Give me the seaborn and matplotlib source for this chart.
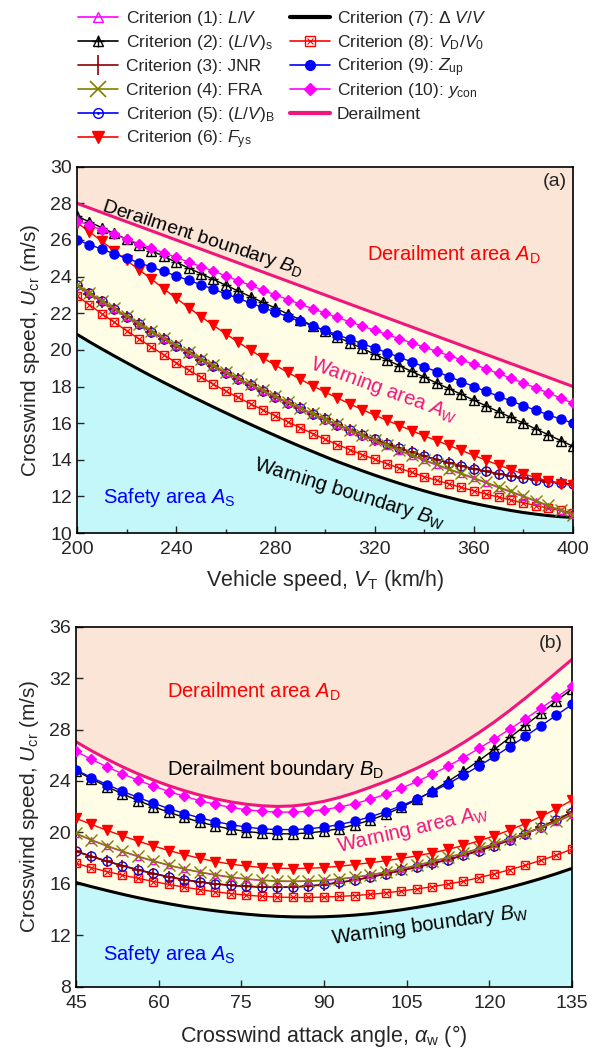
import matplotlib
matplotlib.use('Agg')
import matplotlib.pyplot as plt
from matplotlib.lines import Line2D
from matplotlib.ticker import MultipleLocator
import seaborn as sns

# ---------------- panel (a): critical crosswind speed vs vehicle speed
speed_kmh = [200, 205, 210, 215, 220, 225, 230, 235, 240, 245, 250, 255, 260, 265, 270, 275, 280,
             285, 290, 295, 300, 305, 310, 315, 320, 325, 330, 335, 340, 345, 350, 355, 360, 365,
             370, 375, 380, 385, 390, 395, 400]

a_derail = [28.00, 27.75, 27.50, 27.25, 27.00, 26.75, 26.50, 26.25, 26.00, 25.75, 25.50, 25.25,
            25.00, 24.75, 24.50, 24.25, 24.00, 23.75, 23.50, 23.25, 23.00, 22.75, 22.50, 22.25,
            22.00, 21.75, 21.50, 21.25, 21.00, 20.75, 20.50, 20.25, 20.00, 19.75, 19.50, 19.25,
            19.00, 18.75, 18.50, 18.25, 18.00]
a_c1 = [23.50, 23.08, 22.65, 22.23, 21.81, 21.40, 21.00, 20.60, 20.21, 19.84, 19.47, 19.11, 18.76,
        18.42, 18.08, 17.75, 17.43, 17.11, 16.80, 16.49, 16.19, 15.89, 15.59, 15.30, 15.02, 14.75,
        14.48, 14.22, 13.96, 13.71, 13.46, 13.22, 12.98, 12.73, 12.48, 12.23, 11.98, 11.73, 11.47,
        11.21, 10.96]
a_c2 = [27.30, 26.99, 26.67, 26.36, 26.04, 25.73, 25.42, 25.10, 24.79, 24.47, 24.16, 23.85, 23.53,
        23.22, 22.90, 22.59, 22.28, 21.96, 21.65, 21.33, 21.02, 20.71, 20.39, 20.08, 19.76, 19.45,
        19.14, 18.82, 18.51, 18.19, 17.88, 17.57, 17.25, 16.94, 16.62, 16.31, 16.00, 15.68, 15.37,
        15.05, 14.74]
a_c3 = [23.50, 23.07, 22.64, 22.22, 21.80, 21.39, 20.99, 20.59, 20.20, 19.83, 19.46, 19.10, 18.75,
        18.41, 18.07, 17.74, 17.42, 17.11, 16.80, 16.50, 16.20, 15.91, 15.63, 15.36, 15.10, 14.86,
        14.62, 14.40, 14.20, 14.01, 13.83, 13.66, 13.50, 13.36, 13.23, 13.11, 13.00, 12.90, 12.80,
        12.72, 12.65]
a_c4 = [23.55, 23.12, 22.69, 22.27, 21.85, 21.44, 21.04, 20.64, 20.25, 19.88, 19.51, 19.15, 18.80,
        18.46, 18.12, 17.79, 17.47, 17.15, 16.84, 16.53, 16.23, 15.93, 15.63, 15.34, 15.06, 14.79,
        14.52, 14.26, 14.00, 13.75, 13.50, 13.26, 13.02, 12.77, 12.52, 12.27, 12.02, 11.77, 11.51,
        11.25, 11.00]
a_c5 = [23.52, 23.09, 22.66, 22.23, 21.81, 21.40, 21.00, 20.60, 20.21, 19.84, 19.47, 19.11, 18.76,
        18.41, 18.07, 17.74, 17.42, 17.11, 16.80, 16.50, 16.21, 15.92, 15.64, 15.37, 15.11, 14.87,
        14.63, 14.41, 14.21, 14.02, 13.84, 13.67, 13.51, 13.37, 13.24, 13.12, 13.01, 12.91, 12.81,
        12.73, 12.66]
a_c6 = [26.95, 26.45, 25.93, 25.41, 24.89, 24.38, 23.87, 23.33, 22.82, 22.31, 21.82, 21.34, 20.87,
        20.42, 19.98, 19.56, 19.16, 18.77, 18.40, 18.04, 17.70, 17.37, 17.05, 16.74, 16.44, 16.15,
        15.87, 15.59, 15.31, 15.04, 14.78, 14.51, 14.24, 13.97, 13.71, 13.46, 13.23, 13.02, 12.84,
        12.70, 12.60]
a_c7 = [20.85, 20.44, 20.05, 19.67, 19.30, 18.93, 18.57, 18.22, 17.88, 17.54, 17.21, 16.88, 16.56,
        16.24, 15.93, 15.62, 15.32, 15.02, 14.73, 14.45, 14.17, 13.90, 13.65, 13.40, 13.16, 12.93,
        12.71, 12.50, 12.30, 12.11, 11.94, 11.77, 11.62, 11.48, 11.35, 11.23, 11.12, 11.03, 10.95,
        10.89, 10.85]
a_c8 = [22.95, 22.46, 21.98, 21.51, 21.05, 20.60, 20.16, 19.73, 19.30, 18.90, 18.51, 18.12, 17.75,
        17.40, 17.05, 16.72, 16.40, 16.07, 15.75, 15.43, 15.12, 14.83, 14.55, 14.28, 14.03, 13.78,
        13.54, 13.31, 13.08, 12.88, 12.68, 12.49, 12.30, 12.13, 11.96, 11.80, 11.65, 11.50, 11.36,
        11.23, 11.10]
a_c9 = [26.00, 25.75, 25.50, 25.25, 25.00, 24.76, 24.52, 24.28, 24.04, 23.80, 23.56, 23.31, 23.06,
        22.81, 22.56, 22.31, 22.06, 21.81, 21.56, 21.31, 21.07, 20.82, 20.58, 20.34, 20.10, 19.85,
        19.60, 19.34, 19.08, 18.81, 18.54, 18.27, 18.00, 17.73, 17.47, 17.21, 16.95, 16.70, 16.46,
        16.22, 16.00]
a_c10 = [27.05, 26.80, 26.55, 26.30, 26.05, 25.80, 25.55, 25.30, 25.05, 24.80, 24.55, 24.30, 24.04,
         23.78, 23.52, 23.26, 23.00, 22.75, 22.50, 22.25, 22.01, 21.77, 21.53, 21.30, 21.07, 20.84,
         20.61, 20.38, 20.15, 19.92, 19.69, 19.45, 19.21, 18.96, 18.71, 18.45, 18.19, 17.92, 17.65,
         17.37, 17.08]

# ---------------- panel (b): critical crosswind speed vs attack angle
angle_deg = [45, 47.8125, 50.625, 53.4375, 56.25, 59.0625, 61.875, 64.6875, 67.5, 70.3125, 73.125,
             75.9375, 78.75, 81.5625, 84.375, 87.1875, 90, 92.8125, 95.625, 98.4375, 101.25,
             104.0625, 106.875, 109.6875, 112.5, 115.3125, 118.125, 120.9375, 123.75, 126.5625,
             129.375, 132.1875, 135]

b_derail = [27.05, 26.35, 25.70, 25.10, 24.56, 24.07, 23.63, 23.24, 22.90, 22.61, 22.37, 22.19,
            22.07, 22.02, 22.06, 22.20, 22.42, 22.72, 23.09, 23.52, 23.97, 24.46, 25.00, 25.60,
            26.26, 26.98, 27.76, 28.60, 29.50, 30.45, 31.43, 32.44, 33.46]
b_c1 = [19.90, 19.39, 18.93, 18.51, 18.12, 17.76, 17.43, 17.14, 16.89, 16.68, 16.50, 16.36, 16.26,
        16.20, 16.18, 16.20, 16.26, 16.36, 16.50, 16.68, 16.90, 17.15, 17.43, 17.73, 18.04, 18.37,
        18.72, 19.09, 19.48, 19.90, 20.35, 20.83, 21.35]
b_c2 = [24.80, 24.16, 23.56, 23.00, 22.48, 22.00, 21.56, 21.16, 20.80, 20.50, 20.25, 20.07, 19.95,
        19.89, 19.89, 19.96, 20.09, 20.30, 20.60, 20.96, 21.42, 21.95, 22.56, 23.23, 23.96, 24.75,
        25.59, 26.47, 27.39, 28.33, 29.28, 30.23, 31.17]
b_c3 = [18.52, 18.12, 17.75, 17.40, 17.08, 16.79, 16.53, 16.31, 16.13, 15.99, 15.88, 15.80, 15.75,
        15.73, 15.75, 15.82, 15.94, 16.10, 16.29, 16.52, 16.78, 17.04, 17.30, 17.58, 17.88, 18.21,
        18.57, 18.97, 19.41, 19.89, 20.41, 20.97, 21.57]
b_c4 = [19.93, 19.42, 18.96, 18.54, 18.15, 17.79, 17.46, 17.17, 16.92, 16.71, 16.53, 16.39, 16.29,
        16.23, 16.21, 16.23, 16.29, 16.39, 16.53, 16.71, 16.93, 17.18, 17.46, 17.76, 18.07, 18.40,
        18.75, 19.12, 19.51, 19.93, 20.38, 20.86, 21.38]
b_c5 = [18.55, 18.15, 17.77, 17.42, 17.10, 16.81, 16.55, 16.33, 16.15, 16.00, 15.89, 15.81, 15.76,
        15.74, 15.76, 15.83, 15.95, 16.11, 16.30, 16.53, 16.79, 17.05, 17.31, 17.59, 17.89, 18.22,
        18.58, 18.98, 19.42, 19.90, 20.42, 20.98, 21.58]
b_c6 = [21.10, 20.62, 20.16, 19.73, 19.32, 18.94, 18.59, 18.27, 17.98, 17.73, 17.53, 17.38, 17.27,
        17.21, 17.19, 17.21, 17.27, 17.37, 17.50, 17.64, 17.80, 17.98, 18.18, 18.41, 18.68, 18.99,
        19.34, 19.74, 20.19, 20.69, 21.24, 21.84, 22.50]
b_c7 = [16.10, 15.78, 15.48, 15.19, 14.92, 14.67, 14.45, 14.24, 14.06, 13.90, 13.76, 13.64, 13.54,
        13.47, 13.43, 13.42, 13.44, 13.49, 13.57, 13.68, 13.82, 13.98, 14.17, 14.38, 14.61, 14.86,
        15.13, 15.42, 15.73, 16.06, 16.41, 16.79, 17.20]
b_c8 = [17.60, 17.25, 16.95, 16.68, 16.43, 16.18, 15.95, 15.74, 15.55, 15.38, 15.24, 15.12, 15.03,
        14.97, 14.94, 14.94, 14.97, 15.02, 15.09, 15.18, 15.30, 15.44, 15.60, 15.78, 15.98, 16.21,
        16.48, 16.78, 17.10, 17.45, 17.83, 18.24, 18.70]
b_c9 = [24.85, 24.27, 23.72, 23.20, 22.72, 22.27, 21.85, 21.47, 21.13, 20.84, 20.60, 20.41, 20.28,
        20.22, 20.22, 20.28, 20.41, 20.61, 20.88, 21.22, 21.62, 22.08, 22.60, 23.17, 23.79, 24.46,
        25.17, 25.91, 26.68, 27.48, 28.30, 29.12, 29.95]
b_c10 = [26.30, 25.68, 25.10, 24.56, 24.06, 23.60, 23.18, 22.80, 22.47, 22.18, 21.94, 21.76, 21.64,
         21.58, 21.58, 21.64, 21.77, 21.97, 22.24, 22.58, 22.98, 23.44, 23.96, 24.53, 25.15, 25.82,
         26.53, 27.27, 28.04, 28.84, 29.66, 30.50, 31.35]

legend_labels = ['Criterion (1): $L/V$', 'Criterion (2): $(L/V)_\\mathrm{s}$', 'Criterion (3): JNR',
                 'Criterion (4): FRA', 'Criterion (5): $(L/V)_\\mathrm{B}$', 'Criterion (6): $F_\\mathrm{ys}$',
                 'Criterion (7): $\\Delta\\ V/V$', 'Criterion (8): $V_\\mathrm{D}/V_0$',
                 'Criterion (9): $Z_\\mathrm{up}$', 'Criterion (10): $y_\\mathrm{con}$', 'Derailment']

# colours
MAG = '#FF00FF'
MAROON = '#8B0000'
OLIVE = '#808000'
BLUE = '#0000FF'
RED = '#FF0000'
PINK = '#F0167C'
PEACH = '#FBE5D6'
CREAM = '#FFFDE6'
CYAN = '#C4F7FA'

sns.set_style('ticks')
plt.rcParams['font.family'] = ['Liberation Sans', 'DejaVu Sans']
plt.rcParams['mathtext.fontset'] = 'custom'
plt.rcParams['mathtext.rm'] = 'Liberation Sans'
plt.rcParams['mathtext.it'] = 'Liberation Sans:italic'
plt.rcParams['mathtext.bf'] = 'Liberation Sans:bold'


def curve(ax, x, y, color, marker=None, ms=6, mfc=None, lw=1.0, ls='-', mew=1.0, z=3):
    kw = dict(color=color, linewidth=lw, linestyle=ls, zorder=z)
    if marker is not None:
        kw.update(marker=marker, markersize=ms, markeredgecolor=color,
                  markerfacecolor=color if mfc is None else mfc, markeredgewidth=mew)
    sns.lineplot(x=x, y=y, ax=ax, **kw)


def draw_panel(ax, x, d, c1, c2, c3, c4, c5, c6, c7, c8, c9, c10, ylo, yhi):
    ax.fill_between(x, d, yhi, color=PEACH, lw=0, zorder=0)
    ax.fill_between(x, c7, d, color=CREAM, lw=0, zorder=0)
    ax.fill_between(x, ylo, c7, color=CYAN, lw=0, zorder=0)
    curve(ax, x, c7, 'black', lw=2.2, z=2)
    curve(ax, x, d, PINK, lw=2.2, z=2)
    curve(ax, x, c8, RED, marker='s', ms=6, mfc='none')
    curve(ax, x, c8, RED, marker='x', ms=4, ls='none', mew=0.8)
    curve(ax, x, c5, BLUE, marker='o', ms=6.5, mfc='none')
    curve(ax, x, c5, BLUE, marker='.', ms=2, ls='none')
    curve(ax, x, c3, MAROON, marker='+', ms=9, lw=1.2, mew=1.2)
    curve(ax, x, c1, MAG, marker='^', ms=5, mfc='none')
    curve(ax, x, c4, OLIVE, marker='x', ms=8, mew=1.0)
    curve(ax, x, c6, RED, marker='v', ms=7)
    curve(ax, x, c2, 'black', marker='^', ms=6.5, mfc='none')
    curve(ax, x, c2, 'black', marker='+', ms=7, ls='none')
    curve(ax, x, c9, BLUE, marker='o', ms=6.5)
    curve(ax, x, c10, MAG, marker='D', ms=5)
    ax.set_ylim(ylo, yhi)
    ax.tick_params(direction='in', length=5, width=1, labelsize=14, top=False, right=False)
    ax.tick_params(axis='x', pad=6)
    ax.tick_params(which='minor', direction='in', length=3, width=1)
    for s in ax.spines.values():
        s.set_linewidth(1.2)
        s.set_color('black')


W, H = 596, 1048
fig = plt.figure(figsize=(W / 100, H / 100), dpi=100)
ax1 = fig.add_axes([0.1292, 0.4914, 0.8322, 0.3495])
ax2 = fig.add_axes([0.1275, 0.0585, 0.8322, 0.3435])

# ---- (a)
draw_panel(ax1, speed_kmh, a_derail, a_c1, a_c2, a_c3, a_c4, a_c5, a_c6, a_c7, a_c8, a_c9, a_c10, 10, 30)
ax1.set_xlim(200, 400)
ax1.xaxis.set_major_locator(MultipleLocator(40))
ax1.xaxis.set_minor_locator(MultipleLocator(20))
ax1.yaxis.set_major_locator(MultipleLocator(2))
ax1.set_xlabel('Vehicle speed, $V_\\mathrm{T}$ (km/h)', fontsize=15.5, labelpad=7)
ax1.set_ylabel('Crosswind speed, $U_\\mathrm{cr}$ (m/s)', fontsize=15, labelpad=6)
ax1.text(0.988, 0.96, '(a)', transform=ax1.transAxes, ha='right', va='center', fontsize=14)
ax1.text(250.5, 26.1, 'Derailment boundary $B_\\mathrm{D}$', rotation=-18, rotation_mode='anchor',
         ha='center', va='center', fontsize=14, color='black', zorder=5)
ax1.text(316.8, 25.2, 'Derailment area $A_\\mathrm{D}$', ha='left', va='center', fontsize=14.5,
         color=RED, zorder=5)
ax1.text(323.7, 17.85, 'Warning area $A_\\mathrm{W}$', rotation=-20, rotation_mode='anchor',
         ha='center', va='center', fontsize=14.5, color=PINK, zorder=5)
ax1.text(309.9, 12.2, 'Warning boundary $B_\\mathrm{W}$', rotation=-17, rotation_mode='anchor',
         ha='center', va='center', fontsize=14.5, color='black', zorder=5)
ax1.text(210.6, 11.95, 'Safety area $A_\\mathrm{S}$', ha='left', va='center', fontsize=14.5,
         color=BLUE, zorder=5)

# ---- (b)
draw_panel(ax2, angle_deg, b_derail, b_c1, b_c2, b_c3, b_c4, b_c5, b_c6, b_c7, b_c8, b_c9, b_c10, 8, 36)
ax2.set_xlim(45, 135)
ax2.xaxis.set_major_locator(MultipleLocator(15))
ax2.yaxis.set_major_locator(MultipleLocator(4))
ax2.set_xlabel('Crosswind attack angle, $\\alpha_\\mathrm{w}$ (°)', fontsize=15.5, labelpad=8)
ax2.set_ylabel('Crosswind speed, $U_\\mathrm{cr}$ (m/s)', fontsize=15, labelpad=6)
ax2.text(0.982, 0.953, '(b)', transform=ax2.transAxes, ha='right', va='center', fontsize=14)
ax2.text(61.46, 30.92, 'Derailment area $A_\\mathrm{D}$', ha='left', va='center', fontsize=14.5,
         color=RED, zorder=5)
ax2.text(61.46, 24.93, 'Derailment boundary $B_\\mathrm{D}$', ha='left', va='center', fontsize=14.5,
         color='black', zorder=5)
ax2.text(106.1, 20.27, 'Warning area $A_\\mathrm{W}$', rotation=13, rotation_mode='anchor',
         ha='center', va='center', fontsize=14.5, color=PINK, zorder=5)
ax2.text(109.25, 12.8, 'Warning boundary $B_\\mathrm{W}$', rotation=8, rotation_mode='anchor',
         ha='center', va='center', fontsize=14.5, color='black', zorder=5)
ax2.text(49.95, 10.47, 'Safety area $A_\\mathrm{S}$', ha='left', va='center', fontsize=14.5,
         color=BLUE, zorder=5)

# ---- legend, laid out by hand on a fixed grid (two columns, 24 px rows)
def key(color, marker=None, ms=7, mfc=None, lw=1.2, mew=1.0):
    return dict(color=color, marker=marker, ms=ms, mfc=mfc, lw=lw, mew=mew)

legend_keys = [
    [key(MAG, '^', mfc='none')],
    [key('black', '^', mfc='none'), key('black', '+', ms=8, lw=0)],
    [key(MAROON, '|', ms=14, mew=1.2)],
    [key(OLIVE, 'x', ms=11, mew=1.2)],
    [key(BLUE, 'o', mfc='none'), key(BLUE, '.', ms=2, lw=0)],
    [key(RED, 'v', ms=9)],
    [key('black', lw=3)],
    [key(RED, 's', mfc='none'), key(RED, 'x', ms=5, lw=0, mew=0.8)],
    [key(BLUE, 'o')],
    [key(MAG, 'D', ms=6)],
    [key(PINK, lw=3)],
]
col_x = [(78, 118, 126), (290, 330, 337)]
for i, (lab, parts) in enumerate(zip(legend_labels, legend_keys)):
    col, row = (0, i) if i < 6 else (1, i - 6)
    x0, x1, xt = col_x[col]
    yc = 17 + 24 * row
    fy = 1 - yc / H
    for p in parts:
        if p['lw'] > 0:
            fig.add_artist(Line2D([x0 / W, x1 / W], [fy, fy], transform=fig.transFigure,
                                  color=p['color'], lw=p['lw']))
        if p['marker'] is not None:
            fig.add_artist(Line2D([(x0 + x1) / 2 / W], [fy], transform=fig.transFigure, ls='none',
                                  marker=p['marker'], ms=p['ms'], mec=p['color'], mew=p['mew'],
                                  mfc=p['color'] if p['mfc'] is None else p['mfc']))
    fig.text(xt / W, 1 - (yc + 6) / H, lab, fontsize=12.5, ha='left', va='baseline')

fig.savefig('out.png', dpi=100)
